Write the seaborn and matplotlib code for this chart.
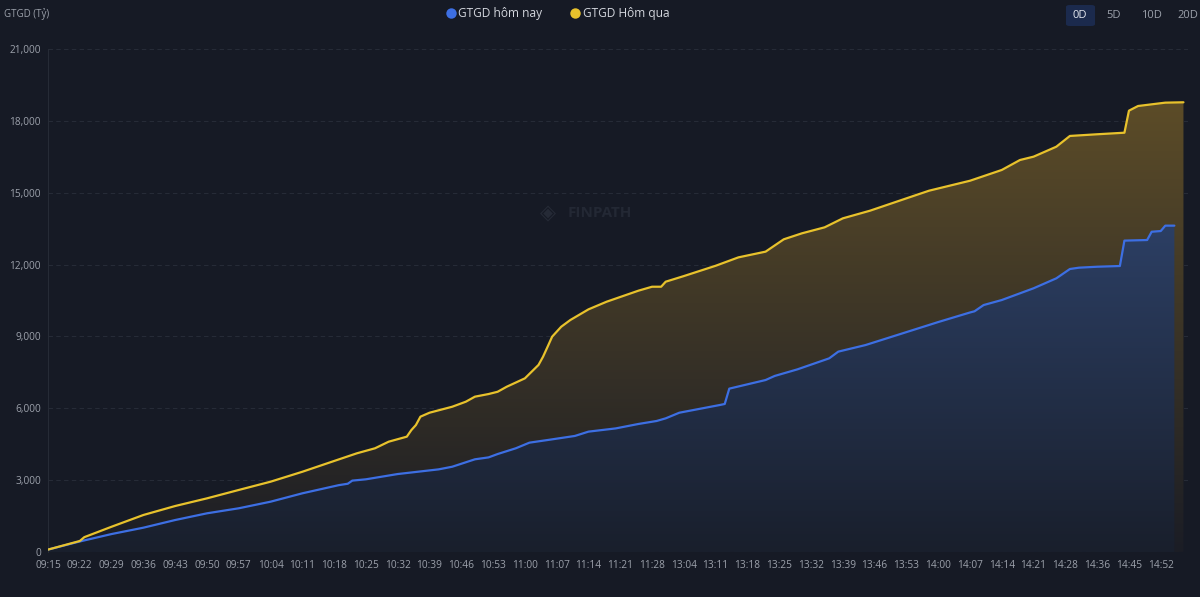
import numpy as np
import pandas as pd
import matplotlib
matplotlib.use("Agg")
import matplotlib.pyplot as plt
from matplotlib.lines import Line2D
from matplotlib.patches import FancyBboxPatch
import seaborn as sns

# ---------------- data ----------------
tick_labels = ["09:15", "09:22", "09:29", "09:36", "09:43", "09:50", "09:57", "10:04",
               "10:11", "10:18", "10:25", "10:32", "10:39", "10:46", "10:53", "11:00",
               "11:07", "11:14", "11:21", "11:28", "13:04", "13:11", "13:18", "13:25",
               "13:32", "13:39", "13:46", "13:53", "14:00", "14:07", "14:14", "14:21",
               "14:28", "14:36", "14:45", "14:52"]
tick_step = 7  # one label every 7 time points

# GTGD hôm nay (today) - point index along the session, value in Tỷ
today_idx = [0, 7, 14, 21, 28, 35, 42, 49, 56, 64, 66, 67, 70, 77, 86, 89, 94, 97, 99, 103,
             106, 110, 116, 119, 125, 130, 134, 136, 139, 148, 149, 150, 158, 160, 165, 172,
             174, 180, 187, 194, 196, 203, 204, 206, 210, 214, 217, 222, 225, 227, 231, 236,
             237, 242, 243, 245, 246, 248]
today_val = [100, 440, 750, 1015, 1335, 1615, 1825, 2100, 2450, 2790, 2850, 2980, 3035, 3255,
             3450, 3560, 3870, 3950, 4090, 4330, 4565, 4675, 4845, 5025, 5160, 5345, 5470,
             5580, 5815, 6140, 6180, 6820, 7180, 7350, 7625, 8085, 8365, 8640, 9060, 9480,
             9600, 10000, 10050, 10310, 10520, 10800, 11010, 11425, 11815, 11870, 11910,
             11940, 13000, 13025, 13370, 13400, 13625, 13625]

# GTGD Hôm qua (yesterday)
yday_idx = [0, 7, 8, 14, 21, 28, 35, 42, 49, 56, 63, 68, 72, 75, 79, 80, 81, 82, 84, 89,
            92, 94, 97, 99, 101, 105, 108, 109, 110, 111, 113, 115, 119, 123, 130, 133, 135,
            136, 140, 147, 152, 158, 162, 166, 171, 175, 181, 189, 194, 203, 210, 214, 217,
            222, 225, 231, 237, 238, 240, 246, 250]
yday_val = [100, 460, 620, 1055, 1545, 1920, 2240, 2590, 2935, 3350, 3800, 4120, 4330, 4605,
            4815, 5090, 5300, 5650, 5815, 6065, 6275, 6485, 6595, 6690, 6900, 7250, 7810,
            8155, 8570, 8990, 9405, 9685, 10130, 10450, 10910, 11075, 11075, 11285, 11520,
            11950, 12300, 12540, 13055, 13305, 13555, 13930, 14250, 14765, 15085, 15500,
            15950, 16365, 16505, 16920, 17370, 17440, 17505, 18425, 18620, 18760, 18775]

y_ticks = [0, 3000, 6000, 9000, 12000, 15000, 18000, 21000]
series_names = ["GTGD hôm nay", "GTGD Hôm qua"]
range_buttons = ["0D", "5D", "10D", "20D"]

# ---------------- style ----------------
BG = "#161a25"
GRID = "#262b37"
TXT = "#9ca1ab"
BLUE = "#3d6fe3"
YELLOW = "#e8c22c"

sns.set_theme(style="dark")
plt.rcParams["font.family"] = ["Open Sans", "DejaVu Sans"]

fig = plt.figure(figsize=(12, 5.97), dpi=100, facecolor=BG)
ax = fig.add_axes([48 / 1200, 1 - 552 / 597, (1188 - 48) / 1200, (552 - 49) / 597])
ax.set_facecolor(BG)

df = pd.concat([
    pd.DataFrame({"idx": today_idx, "val": today_val, "series": series_names[0]}),
    pd.DataFrame({"idx": yday_idx, "val": yday_val, "series": series_names[1]}),
])


def gradient_area(x, y, top_rgb, bot_rgb, z):
    poly = ax.fill_between(x, y, 0, color="none", lw=0)
    path = poly.get_paths()[0]
    g = np.linspace(0, 1, 256)[:, None, None]
    top = np.array(top_rgb)[None, None, :] / 255
    bot = np.array(bot_rgb)[None, None, :] / 255
    img = bot + (top - bot) * g
    im = ax.imshow(img, extent=[min(x), max(x), 0, max(y)], origin="lower",
                   aspect="auto", zorder=z, interpolation="bilinear")
    im.set_clip_path(path, ax.transData)


gradient_area(yday_idx, yday_val, (92, 76, 40), (27, 29, 37), 1)
gradient_area(today_idx, today_val, (44, 63, 100), (25, 31, 44), 2)

sns.lineplot(data=df, x="idx", y="val", hue="series", palette=[BLUE, YELLOW],
             hue_order=[series_names[0], series_names[1]], estimator=None, sort=True,
             linewidth=1.6, ax=ax, legend=False, zorder=4)

ax.set_xlim(0, 251)
ax.set_ylim(0, 21000)
ax.set_xticks([i * tick_step for i in range(len(tick_labels))])
ax.set_xticklabels(tick_labels)
ax.set_yticks(y_ticks)
ax.set_yticklabels([f"{v:,}" for v in y_ticks])
ax.tick_params(axis="both", colors=TXT, labelsize=7.3, length=0)
ax.tick_params(axis="x", pad=6)
ax.tick_params(axis="y", pad=5)
ax.set_xlabel("")
ax.set_ylabel("")
ax.grid(axis="y", color=GRID, linestyle=(0, (4, 3)), linewidth=0.8)
ax.grid(axis="x", visible=False)
for s in ["top", "right", "bottom"]:
    ax.spines[s].set_visible(False)
ax.spines["left"].set_color("#262b36")
ax.spines["left"].set_linewidth(0.8)

# axis title
fig.text(4 / 1200, 1 - 14 / 597, "GTGD (Tỷ)", color=TXT, fontsize=7, va="center", ha="left")

# legend
handles = [Line2D([], [], marker="o", linestyle="none", markersize=7.5, color=c,
                  markeredgewidth=0) for c in (BLUE, YELLOW)]
fig.legend(handles, series_names, loc="center", bbox_to_anchor=(557 / 1200, 1 - 14 / 597),
           ncol=2, frameon=False, fontsize=8.6, labelcolor="#d3d6dd", handletextpad=0.15,
           columnspacing=2.2, handlelength=1.0)

# range buttons
btn_x = [1080, 1114, 1151, 1188]
fig.patches.append(FancyBboxPatch((1066 / 1200, 1 - 26 / 597), 29 / 1200, 21 / 597,
                                  boxstyle="round,pad=0,rounding_size=0.003",
                                  transform=fig.transFigure, facecolor="#1b2a4d",
                                  edgecolor="none"))
for lbl, bx in zip(range_buttons, btn_x):
    fig.text(bx / 1200, 1 - 15 / 597, lbl, color="#e4e8f0" if lbl == "0D" else TXT,
             fontsize=8, ha="center", va="center")

# watermark
fig.text(548 / 1200, 1 - 213 / 597, "◈", color="#252a36", fontsize=15, ha="center",
         va="center", family=["DejaVu Sans"])
fig.text(600 / 1200, 1 - 213 / 597, "FINPATH", color="#232834", fontsize=11,
         fontweight="bold", ha="center", va="center")

fig.savefig("out.png", dpi=100, facecolor=BG)
